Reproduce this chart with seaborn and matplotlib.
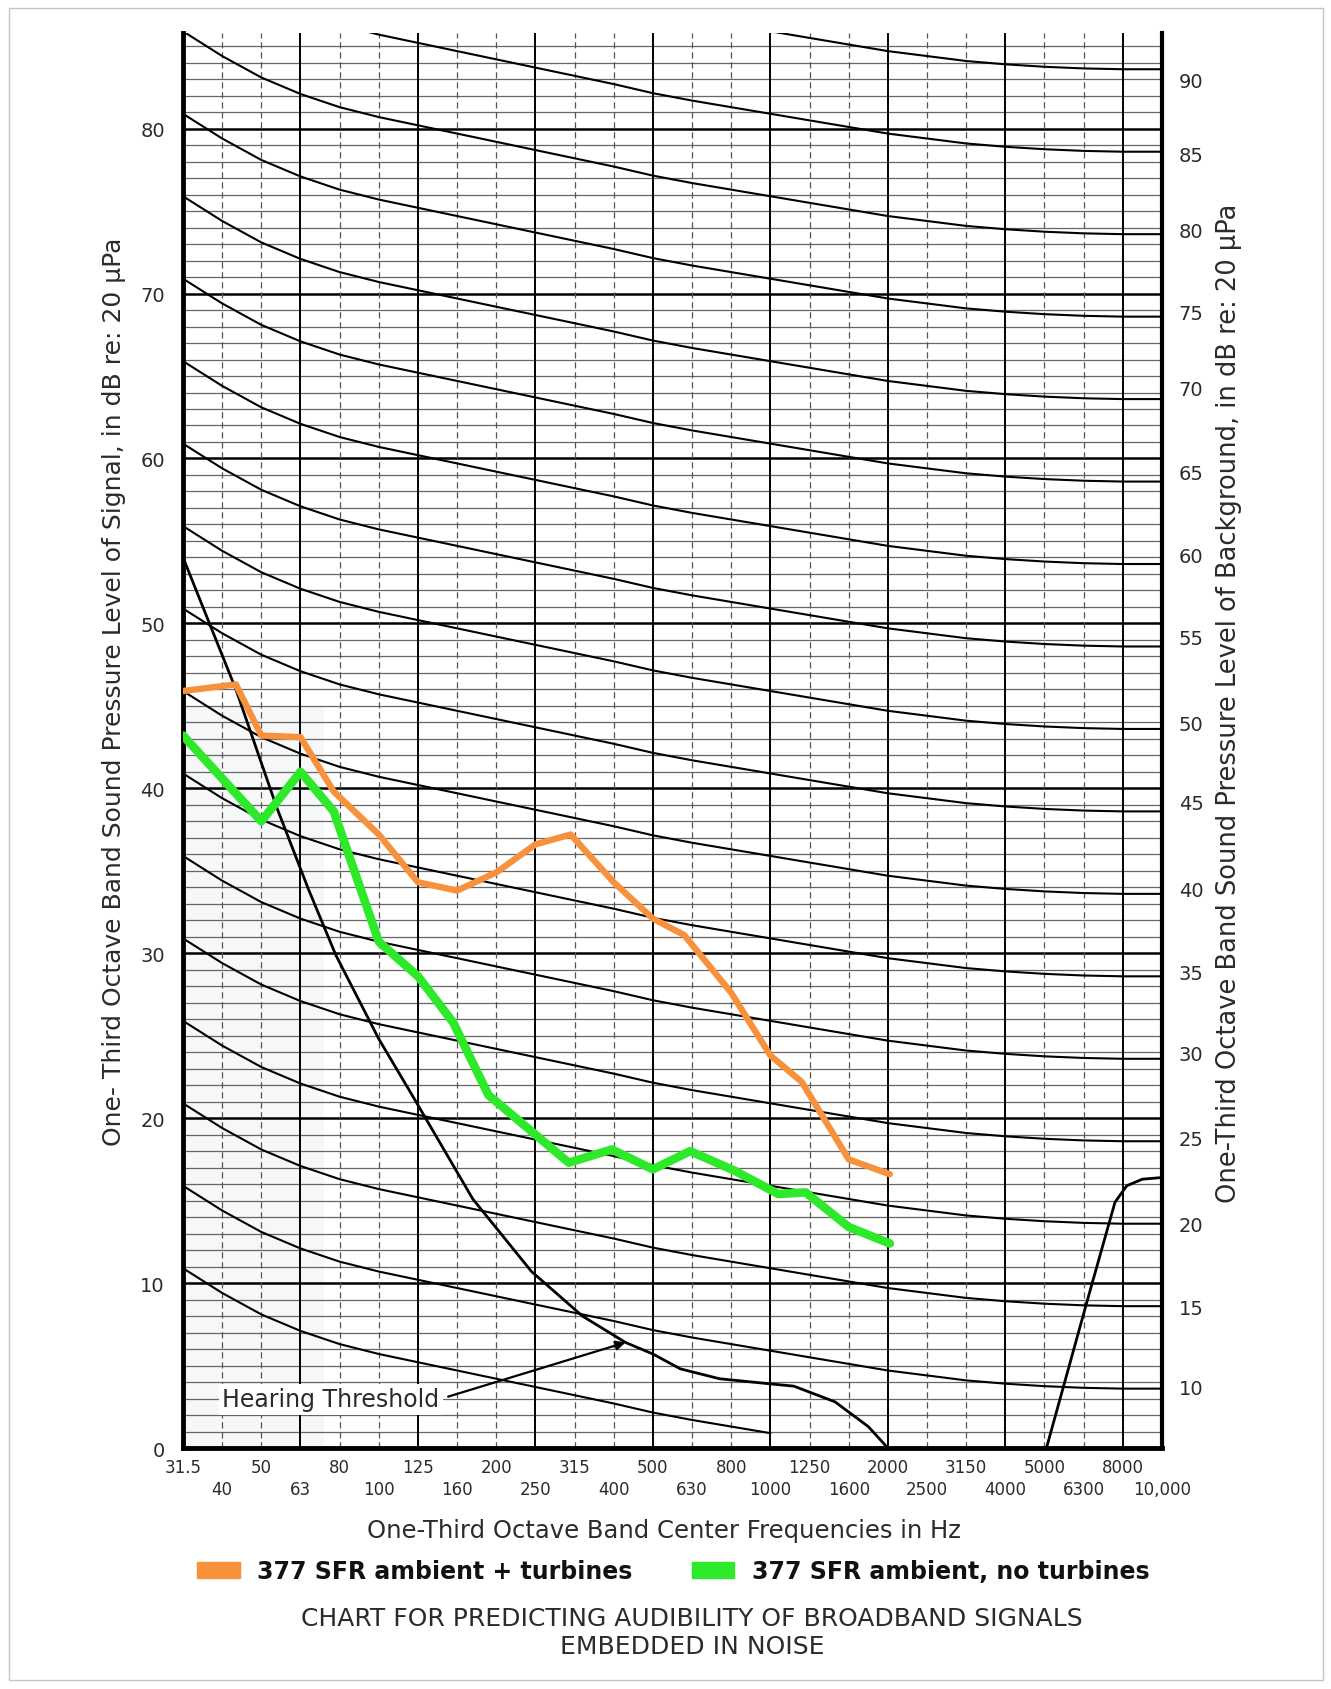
import matplotlib
matplotlib.use('Agg')
import matplotlib.pyplot as plt
import seaborn as sns
from matplotlib.patches import Patch, Rectangle

# одна-третьоктавные полосы (позиции = индекс полосы)
band_labels = ['31.5', '40', '50', '63', '80', '100', '125', '160', '200', '250',
               '315', '400', '500', '630', '800', '1000', '1250', '1600', '2000',
               '2500', '3150', '4000', '5000', '6300', '8000', '10,000']

# семейство кривых фона: уровень фона + форма кривой по полосам
background_levels = [5, 10, 15, 20, 25, 30, 35, 40, 45, 50, 55, 60, 65, 70, 75, 80, 85, 90]
background_shape = [5.9, 4.4, 3.1, 2.1, 1.3, 0.7, 0.2, -0.3, -0.8, -1.3, -1.8, -2.3, -2.85,
                    -3.3, -3.7, -4.1, -4.5, -4.9, -5.3, -5.6, -5.9, -6.1, -6.25, -6.35, -6.4, -6.4]
right_tick_levels = [10, 15, 20, 25, 30, 35, 40, 45, 50, 55, 60, 65, 70, 75, 80, 85, 90]
right_tick_db = [3.7, 8.6, 13.6, 18.8, 24.0, 28.9, 33.9, 39.2, 44.0, 49.2, 54.2, 59.2,
                 64.3, 68.9, 73.9, 78.5, 83.0]

# порог слышимости (две ветви)
threshold_band = [0, 1.35, 2.4, 3.2, 3.9, 5.0, 5.85, 7.4, 8.9, 10.2, 11.3, 12.0, 12.7,
                  13.7, 14.95, 15.6, 16.65, 17.5, 18.0]
threshold_db = [54.0, 46.0, 38.8, 33.9, 29.9, 24.8, 21.4, 15.1, 10.7, 8.0, 6.4, 5.7, 4.8,
                4.2, 3.9, 3.75, 2.8, 1.3, 0.0]
threshold_hi_band = [22.05, 23.1, 23.8, 24.1, 24.5, 25.0]
threshold_hi_db = [0.0, 9.0, 14.9, 15.9, 16.3, 16.4]

# измерения
turbines_band = [0, 1.35, 2, 3, 3.85, 5, 6, 7, 8, 9, 9.9, 11, 12, 12.8, 14, 15, 15.8, 17, 18.05]
turbines_db = [45.9, 46.3, 43.2, 43.1, 39.8, 37.2, 34.3, 33.8, 34.9, 36.6, 37.2, 34.3, 32.1,
               31.1, 27.6, 23.8, 22.2, 17.5, 16.6]
no_turbines_band = [0, 2, 3, 3.85, 5, 6, 6.9, 7.8, 8.9, 9.85, 10.95, 12, 12.95, 14.1, 15.2,
                    15.9, 17, 18.05]
no_turbines_db = [43.2, 38.0, 41.0, 38.6, 30.7, 28.6, 25.8, 21.4, 19.2, 17.3, 18.1, 16.9,
                  18.0, 16.8, 15.4, 15.5, 13.4, 12.4]

ORANGE = '#f7913c'
GREEN = '#2ee82a'
INK = '#2b2b2b'

sns.set_theme(style='white')
plt.rcParams['font.family'] = ['DejaVu Sans']

fig = plt.figure(figsize=(13.31, 16.90), dpi=100)
ax = fig.add_axes([0.1375, 0.1426, 0.7355, 0.8373])
ymax = 85.8
ax.set_xlim(0, 25)
ax.set_ylim(0, ymax)

# сетка
for v in range(1, 86):
    if v % 10 == 0:
        ax.axhline(v, color='black', lw=1.8, zorder=1)
    else:
        ax.axhline(v, color='#666666', lw=0.9, zorder=1)
for i in range(1, 25):
    if i % 3 == 0:
        ax.axvline(i, color='black', lw=1.4, zorder=1)
    else:
        ax.axvline(i, color='#555555', lw=0.9, ls=(0, (5, 3)), zorder=1)

# лёгкая серая заливка слева, как на скане
ax.fill_between([0, 3.6], 0, 45, color='#dde1e8', alpha=0.25, lw=0, zorder=0.5)

# кривые фона (самая нижняя на скане обрывается около 1000 Гц)
bands = list(range(len(band_labels)))
for lvl in background_levels:
    n = 16 if lvl == 5 else len(bands)
    sns.lineplot(x=bands[:n], y=[lvl + s for s in background_shape[:n]], ax=ax, color='black',
                 lw=1.5, sort=False, estimator=None, zorder=2, legend=False)

# порог слышимости
sns.lineplot(x=threshold_band, y=threshold_db, ax=ax, color='black', lw=2.0,
             sort=False, estimator=None, zorder=3, legend=False)
sns.lineplot(x=threshold_hi_band, y=threshold_hi_db, ax=ax, color='black', lw=2.0,
             sort=False, estimator=None, zorder=3, legend=False)

# данные
sns.lineplot(x=turbines_band, y=turbines_db, ax=ax, color=ORANGE, lw=4.6,
             sort=False, estimator=None, zorder=5, legend=False)
sns.lineplot(x=no_turbines_band, y=no_turbines_db, ax=ax, color=GREEN, lw=6.2,
             sort=False, estimator=None, zorder=4, legend=False)

ax.annotate('Hearing Threshold', xy=(11.3, 6.4), xytext=(1.0, 2.95),
            ha='left', va='center', fontsize=17, color=INK, zorder=6,
            bbox=dict(boxstyle='square,pad=0.15', fc='white', ec='none'),
            arrowprops=dict(arrowstyle='-|>', color='black', lw=1.6,
                            mutation_scale=14, relpos=(1, 0.5), shrinkA=4, shrinkB=0))

# оси
for side in ['left', 'bottom']:
    ax.spines[side].set_linewidth(3.5)
    ax.spines[side].set_color('black')
ax.spines['right'].set_linewidth(3.0)
ax.spines['right'].set_color('black')
ax.spines['top'].set_visible(False)

ax.set_yticks(range(0, 81, 10))
ax.set_yticklabels([str(v) for v in range(0, 81, 10)])
ax.tick_params(axis='y', length=0, pad=13, labelsize=14, labelcolor=INK)

ax.set_xticks(bands[0::2])
ax.set_xticklabels(band_labels[0::2])
ax.set_xticks(bands[1::2], minor=True)
ax.set_xticklabels(band_labels[1::2], minor=True)
ax.tick_params(axis='x', which='major', length=0, pad=7, labelsize=12, labelcolor=INK)
ax.tick_params(axis='x', which='minor', length=0, pad=23, labelsize=12, labelcolor=INK)

ax2 = ax.twinx()
ax2.set_ylim(0, ymax)
ax2.set_yticks(right_tick_db)
ax2.set_yticklabels([str(v) for v in right_tick_levels])
ax2.tick_params(axis='y', length=0, pad=12, labelsize=14, labelcolor=INK)
for s in ax2.spines.values():
    s.set_visible(False)

ax.set_ylabel('One- Third Octave Band Sound Pressure Level of Signal, in dB re: 20 \u00b5Pa',
              fontsize=18, color=INK)
ax.yaxis.set_label_coords(-0.058, 0.535)
ax2.set_ylabel('One-Third Octave Band Sound Pressure Level of Background, in dB re: 20 \u00b5Pa',
               fontsize=18.5, color=INK, rotation=90)
ax2.yaxis.set_label_coords(1.055, 0.527)
ax.set_xlabel('One-Third Octave Band Center Frequencies in Hz', fontsize=17.5, color=INK)
ax.xaxis.set_label_coords(0.491, -0.0495)

handles = [Patch(color=ORANGE, label='377 SFR ambient + turbines'),
           Patch(color=GREEN, label='377 SFR ambient, no turbines')]
fig.legend(handles=handles, loc='center left', bbox_to_anchor=(197 / 1331, 1 - 1572 / 1690),
           ncol=2, frameon=False, borderpad=0, borderaxespad=0, handlelength=1.8,
           handleheight=0.65, handletextpad=0.75, columnspacing=2.5,
           prop=dict(size=17, weight='bold'), labelcolor='#111111')

fig.text(692 / 1331, 1 - 1619 / 1690, 'CHART FOR PREDICTING AUDIBILITY OF BROADBAND SIGNALS',
         ha='center', va='center', fontsize=18, color=INK)
fig.text(692 / 1331, 1 - 1647 / 1690, 'EMBEDDED IN NOISE',
         ha='center', va='center', fontsize=18, color=INK)

fig.patches.append(Rectangle((9 / 1331, 9 / 1690), 1314 / 1331, 1672 / 1690,
                             transform=fig.transFigure, fill=False, ec='#c4c4c4', lw=1.0))

fig.savefig('out.png', dpi=100)
